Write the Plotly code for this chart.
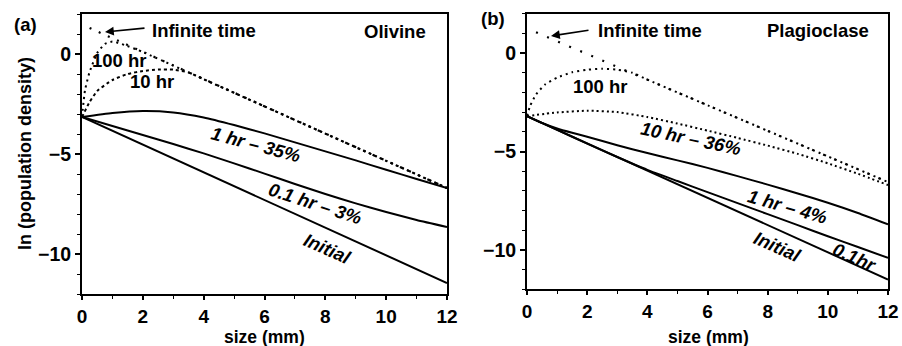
import plotly.graph_objects as go

W, H = 902, 346

# ---------------- Panel (a) Olivine ----------------
size_inf_a = [0.25, 12]
inf_a = [1.3, -6.7]

size_100_a = [0, 0.1, 0.25, 0.5, 0.75, 1.0, 1.4, 2.0, 3, 4, 6, 8, 10, 12]
hr100_a = [-3.15, -1.8, -0.9, 0.05, 0.5, 0.62, 0.45, 0.1, -0.58, -1.26, -2.62, -3.98, -5.34, -6.7]

size_10_a = [0, 0.25, 0.5, 1.0, 1.5, 2.0, 2.5, 3.0, 3.5, 4, 6, 8, 10, 12]
hr10_a = [-3.15, -2.4, -1.85, -1.3, -1.0, -0.85, -0.78, -0.78, -0.92, -1.26, -2.62, -3.98, -5.34, -6.7]

size_1_a = [0, 1, 2, 3, 4, 5, 6, 7, 8, 9, 10, 11, 12]
hr1_a = [-3.15, -2.95, -2.85, -2.92, -3.17, -3.55, -3.97, -4.42, -4.87, -5.32, -5.79, -6.25, -6.7]

size_01_a = [0, 1, 2, 3, 4, 5, 6, 7, 8, 9, 10, 11, 12]
hr01_a = [-3.15, -3.6, -4.05, -4.5, -4.97, -5.47, -5.98, -6.5, -7.0, -7.47, -7.9, -8.3, -8.65]

size_init_a = [0, 12]
init_a = [-3.15, -11.45]

# ---------------- Panel (b) Plagioclase ----------------
size_inf_b = [0.3, 12]
inf_b = [1.05, -6.55]

size_100_b = [0, 0.1, 0.3, 0.6, 1.0, 1.5, 2.0, 2.5, 3.0, 3.5, 4, 6, 8, 10, 12]
hr100_b = [-3.2, -2.7, -2.1, -1.6, -1.25, -0.98, -0.85, -0.8, -0.85, -1.0, -1.35, -2.65, -3.95, -5.25, -6.55]

size_10_b = [0, 1, 2, 3, 4, 5, 6, 7, 8, 9, 10, 11, 12]
hr10_b = [-3.2, -3.02, -2.93, -3.0, -3.25, -3.58, -3.94, -4.31, -4.7, -5.12, -5.6, -6.13, -6.7]

size_1_b = [0, 0.5, 1, 1.5, 2, 3, 4, 5, 6, 7, 8, 9, 10, 11, 12]
hr1_b = [-3.2, -3.55, -3.83, -4.05, -4.25, -4.68, -5.08, -5.45, -5.83, -6.25, -6.68, -7.13, -7.6, -8.12, -8.7]

size_01_b = [0, 1, 2, 3, 4, 5, 6, 7, 8, 9, 10, 11, 12]
hr01_b = [-3.2, -3.9, -4.6, -5.28, -5.93, -6.5, -7.06, -7.62, -8.18, -8.74, -9.3, -9.85, -10.4]

size_init_b = [0, 12]
init_b = [-3.2, -11.5]

x_ticks = [0, 2, 4, 6, 8, 10, 12]
y_ticks = [-10, -5, 0]

FONT = "Liberation Sans"
fig = go.Figure()


def add_line(x, y, xa, ya, dash="solid", width=2.0):
    fig.add_trace(go.Scatter(
        x=x, y=y, xaxis=xa, yaxis=ya, mode="lines",
        line=dict(color="black", width=width, dash=dash, shape="spline", smoothing=0.5),
        hoverinfo="skip", showlegend=False))


# panel a
add_line(size_inf_a, inf_a, "x", "y", dash="2px,8px", width=2.2)
add_line(size_100_a, hr100_a, "x", "y", dash="2px,4px", width=2.0)
add_line(size_10_a, hr10_a, "x", "y", dash="3px,3px", width=2.0)
add_line(size_1_a, hr1_a, "x", "y", width=2.0)
add_line(size_01_a, hr01_a, "x", "y", width=2.0)
add_line(size_init_a, init_a, "x", "y", width=2.0)

# panel b
add_line(size_inf_b, inf_b, "x2", "y2", dash="2px,10px", width=2.2)
add_line(size_100_b, hr100_b, "x2", "y2", dash="2px,4px", width=2.0)
add_line(size_10_b, hr10_b, "x2", "y2", dash="2px,3px", width=2.0)
add_line(size_1_b, hr1_b, "x2", "y2", width=2.0)
add_line(size_01_b, hr01_b, "x2", "y2", width=2.0)
add_line(size_init_b, init_b, "x2", "y2", width=2.0)


def xaxis_cfg(domain, anchor):
    return dict(domain=domain, anchor=anchor, range=[0, 12], tickvals=x_ticks,
                ticks="outside", ticklen=4, tickwidth=1.6, tickcolor="black",
                minor=dict(dtick=1, tick0=0, ticks="outside", ticklen=3, tickwidth=1.3, tickcolor="black"),
                showline=True, linewidth=2, linecolor="black", mirror=True,
                showgrid=False, zeroline=False, automargin=False,
                tickfont=dict(family=FONT, size=19, color="black", weight="bold"))


def yaxis_cfg(domain, anchor):
    return dict(domain=domain, anchor=anchor, range=[-12, 2], tickvals=y_ticks,
                ticks="outside", ticklen=5, tickwidth=1.6, tickcolor="black",
                minor=dict(dtick=1, tick0=0, ticks="outside", ticklen=3, tickwidth=1.3, tickcolor="black"),
                showline=True, linewidth=2, linecolor="black", mirror=True,
                showgrid=False, zeroline=False, automargin=False,
                tickfont=dict(family=FONT, size=19.5, color="black", weight="bold"))


fig.update_layout(
    width=W, height=H, template="none",
    margin=dict(l=0, r=0, t=0, b=0),
    paper_bgcolor="white", plot_bgcolor="white",
    showlegend=False,
    xaxis=xaxis_cfg([82 / W, 447 / W], "y"),
    yaxis=yaxis_cfg([1 - 294 / H, 1 - 14 / H], "x"),
    xaxis2=xaxis_cfg([527 / W, 888 / W], "y2"),
    yaxis2=yaxis_cfg([1 - 289.4 / H, 1 - 13.6 / H], "x2"),
)


def P(px, py):
    return px / W, 1 - py / H


def label(text, px, py, size=18.5, italic=False, angle=0, xanchor="center"):
    x, y = P(px, py)
    fig.add_annotation(x=x, y=y, xref="paper", yref="paper", text=text, showarrow=False,
                       xanchor=xanchor, yanchor="middle", textangle=angle,
                       font=dict(family=FONT, size=size, color="black", weight="bold",
                                 style="italic" if italic else "normal"))


def arrow(hx, hy, tx, ty):
    x, y = P(hx, hy)
    fig.add_annotation(x=x, y=y, xref="paper", yref="paper", text="", showarrow=True,
                       ax=tx - hx, ay=ty - hy, arrowhead=2, arrowsize=1.1, arrowwidth=1.6,
                       arrowcolor="black", standoff=0)


# panel titles and labels
label("(a)", 25, 25)
label("(b)", 493, 19)
label("Infinite time", 150, 30, xanchor="left")
label("Olivine", 395, 31)
label("Infinite time", 596, 30, xanchor="left")
label("Plagioclase", 818, 30)
arrow(105, 32, 146, 28)
arrow(551, 36, 590, 30)

# curve labels (a)
label("100 hr", 120, 61)
label("10 hr", 152, 82)
label("1 hr – 35%", 256, 145, italic=True, angle=15)
label("0.1 hr – 3%", 315, 203, italic=True, angle=18)
label("Initial", 327, 248, italic=True, angle=24)

# curve labels (b)
label("100 hr", 600, 87)
label("10 hr – 36%", 691, 138, italic=True, angle=12)
label("1 hr – 4%", 787, 206, italic=True, angle=16)
label("Initial", 777, 246, italic=True, angle=24)
label("0.1hr", 855, 257, italic=True, angle=24)

# axis titles
label("size (mm)", 264, 337, size=17.5)
label("size (mm)", 708, 337, size=17.5)
label("ln (population density)", 25, 154, size=18, angle=-90)

fig.write_html("out.html")
